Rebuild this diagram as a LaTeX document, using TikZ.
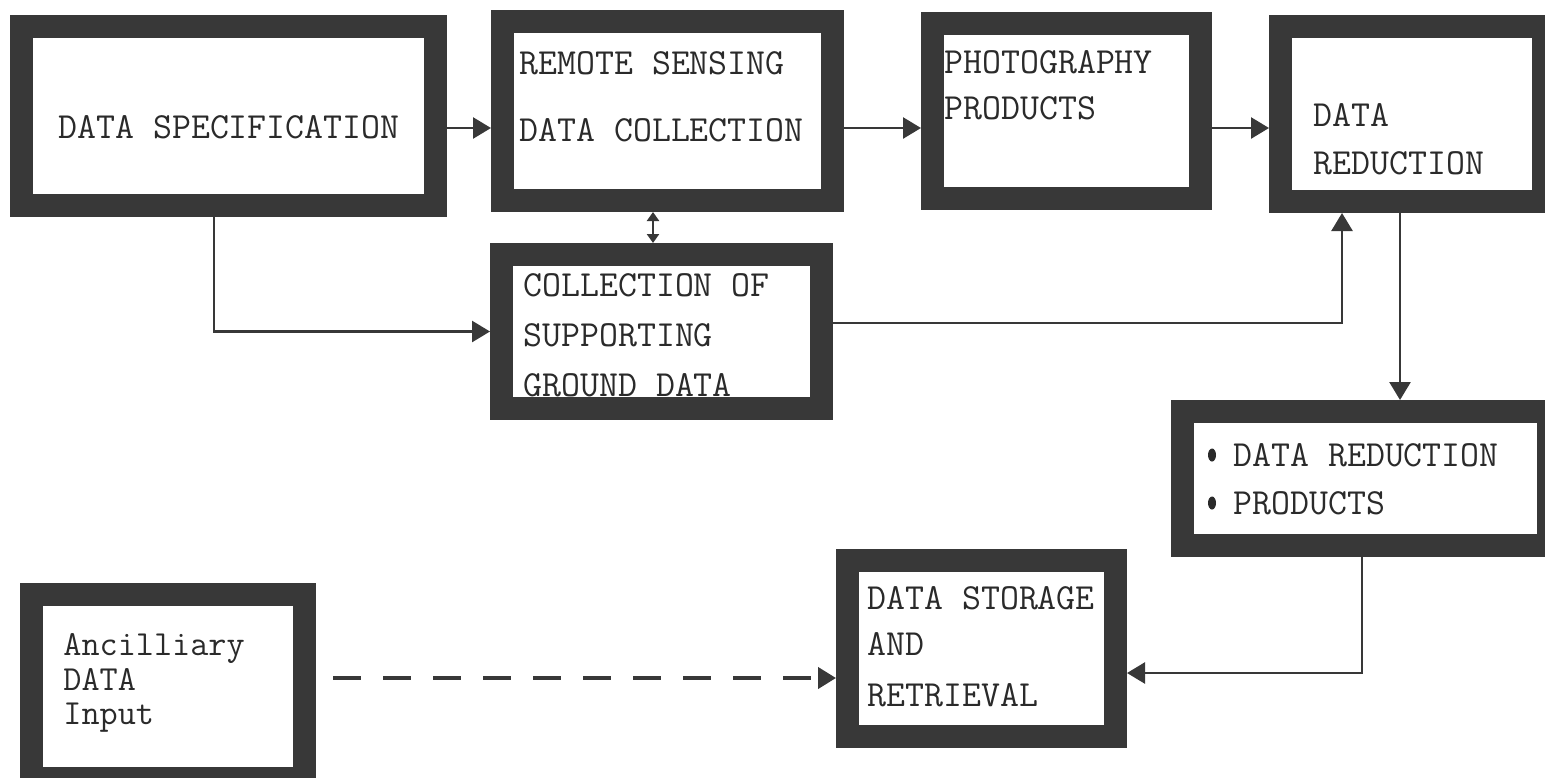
\documentclass[tikz,border=0pt]{standalone}
\usepackage{fontspec}
\usetikzlibrary{arrows.meta,shapes.geometric}
\definecolor{ink}{HTML}{383838}
\definecolor{type}{HTML}{2A2A2A}
\begin{document}
\begin{tikzpicture}[x=0.5pt,y=-0.5pt,
  frame/.style={draw=ink, line width=11.5pt, fill=white, rectangle, inner sep=0pt},
  lbl/.style={anchor=west, inner sep=0pt, text=type,
    font=\fontsize{18.4}{22}\selectfont\ttfamily, text height=11pt, text depth=0pt},
  small/.style={lbl, font=\fontsize{17.6}{21}\selectfont\ttfamily, text height=10.5pt},
  bullet/.style={ellipse, fill=type, minimum width=4pt, minimum height=6.5pt, inner sep=0pt},
  flow/.style={draw=ink, line width=1.3pt, -{Triangle[length=9pt,width=10.5pt]}},
  pair/.style={draw=ink, line width=1.3pt, {Triangle[length=4.5pt,width=6pt]}-{Triangle[length=4.5pt,width=6pt]}},
  dashflow/.style={flow, line width=2pt, dash pattern=on 14pt off 11pt}]

\useasboundingbox[fill=white] (0,0) rectangle (1545,777);

% boxes with heavy frames
\node[frame, minimum width=207pt,   minimum height=89.5pt] (spec)   at (228.5,116) {};
\node[frame, minimum width=165pt,   minimum height=89.5pt] (remote) at (667.5,111) {};
\node[frame, minimum width=134pt,   minimum height=87.5pt] (photo)  at (1066.5,111) {};
\node[frame, minimum width=131.5pt, minimum height=87.5pt] (reduce) at (1412,114) {};
\node[frame, minimum width=160pt,   minimum height=77pt]   (ground) at (661.5,331.5) {};
\node[frame, minimum width=183pt,   minimum height=67pt]   (prod)   at (1365.5,478.5) {};
\node[frame, minimum width=134pt,   minimum height=88pt]   (store)  at (981.5,648.5) {};
\node[frame, minimum width=136.5pt, minimum height=92pt]   (anc)    at (168,686.5) {};

% typed labels
\node[lbl] (specA)   at (58,127)   {DATA SPECIFICATION};
\node[lbl] (remoteA) at (519,63)   {REMOTE SENSING};
\node[lbl] (remoteB) at (519,130)  {DATA COLLECTION};
\node[lbl] (photoA)  at (944,62)   {PHOTOGRAPHY};
\node[lbl] (photoB)  at (944,108)  {PRODUCTS};
\node[lbl] (reduceA) at (1313,115) {DATA};
\node[lbl] (reduceB) at (1313,163) {REDUCTION};
\node[lbl] (groundA) at (523,285)  {COLLECTION OF};
\node[lbl] (groundB) at (523,335)  {SUPPORTING};
\node[lbl] (groundC) at (523,385)  {GROUND DATA};
\node[bullet] (dotA) at (1212,455) {};
\node[bullet] (dotB) at (1212,503) {};
\node[lbl] (prodA)   at (1233,455) {DATA REDUCTION};
\node[lbl] (prodB)   at (1233,503) {PRODUCTS};
\node[lbl] (storeA)  at (867,598)  {DATA STORAGE};
\node[lbl] (storeB)  at (867,644)  {AND};
\node[lbl] (storeC)  at (867,695)  {RETRIEVAL};
\node[small] (ancA)  at (63,645)   {Ancilliary};
\node[small] (ancB)  at (63,680)   {DATA};
\node[small] (ancC)  at (63,714)   {Input};

% main row
\coordinate (row) at (0,128);
\draw[flow] (row -| spec.east)   -- (row -| remote.west);
\draw[flow] (row -| remote.east) -- (row -| photo.west);
\draw[flow] (row -| photo.east)  -- (row -| reduce.west);

% ground data links
\draw[pair] ([xshift=-4.25pt]ground.north) -- ([xshift=-4.25pt]ground.north |- remote.south);
\draw[flow] ([xshift=-7.25pt]spec.south) |- (ground.west);
\draw[flow] ([yshift=4.25pt]ground.east) -| ([xshift=-35pt]reduce.south);

% reduction products and storage
\draw[flow] ([xshift=-6pt]reduce.south) -- ([xshift=-6pt]reduce.south |- prod.north);
\draw[flow] ([xshift=-1.75pt]prod.south) |- ([yshift=-12.25pt]store.east);
\draw[dashflow] ([xshift=8.5pt,yshift=4.25pt]anc.east) -- ([yshift=4.25pt]anc.east -| store.west);

\end{tikzpicture}
\end{document}
